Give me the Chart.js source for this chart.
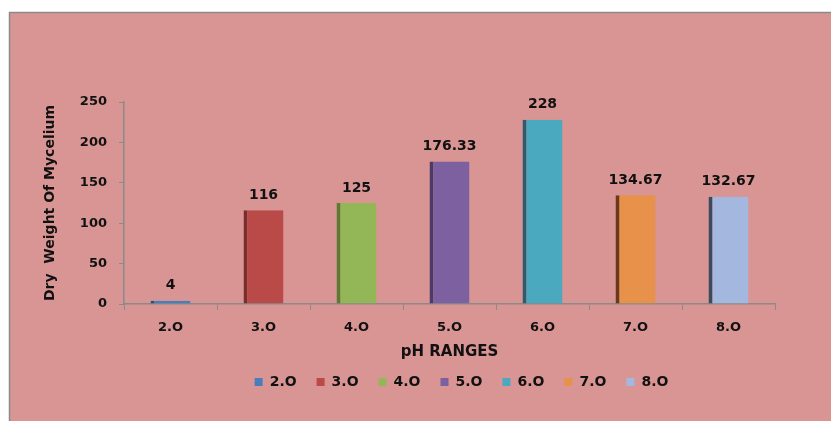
<!DOCTYPE html>
<html><head><meta charset="utf-8">
<script src="https://cdn.jsdelivr.net/npm/chart.js@4.4.0/dist/chart.umd.min.js"></script>
<style>html,body{margin:0;padding:0;background:#fff;}#wrap{position:absolute;left:0;top:0;width:831px;height:421px;}</style>
</head><body><div id="wrap"><canvas id="c" width="831" height="421"></canvas></div>
<script>
const categories = ["2.O","3.O","4.O","5.O","6.O","7.O","8.O"];
const dryWeight = [4, 116, 125, 176.33, 228, 134.67, 132.67];
const valueLabels = ["4","116","125","176.33","228","134.67","132.67"];
const yTicks = [0, 50, 100, 150, 200, 250];
const barColors = ["#4A7EBB","#BA4A48","#93B756","#7D60A0","#4AA8BF","#E8914A","#A4B7DF"];
const sideColors = ["#2C4F7C","#7A2D2B","#5E7934","#4E3A68","#2E5C6C","#6A3A18","#3D4A5E"];

const FONT = "'DejaVu Sans', sans-serif";

const bgPlugin = {
  id: 'bg',
  beforeDraw(chart) {
    const ctx = chart.ctx;
    ctx.save();
    ctx.fillStyle = '#D99594';
    ctx.fillRect(9, 12, 830, 420);
    ctx.strokeStyle = '#8a8a8a';
    ctx.lineWidth = 1.5;
    ctx.strokeRect(9.5, 12.5, 830, 420);
    ctx.restore();
  }
};
const legendShift = {
  id: 'legendShift',
  afterLayout(chart) {
    if (chart.legend) { chart.legend.left += 53; chart.legend.right += 53; }
  }
};
const labelPlugin = {
  id: 'vals',
  afterDatasetsDraw(chart) {
    const ctx = chart.ctx;
    const meta = chart.getDatasetMeta(0);
    ctx.save();
    ctx.font = "bold 14px " + FONT;
    ctx.fillStyle = '#111';
    ctx.textAlign = 'center';
    ctx.textBaseline = 'bottom';
    meta.data.forEach((el, i) => {
      ctx.fillText(valueLabels[i], el.x, el.y - 8);
    });
    ctx.restore();
  }
};

new Chart(document.getElementById('c'), {
  type: 'bar',
  data: {
    labels: categories,
    datasets: [{
      label: 'Dry Weight',
      data: dryWeight,
      backgroundColor: barColors,
      borderColor: sideColors,
      borderWidth: {left: 4, right: 0, top: 0, bottom: 0},
      borderSkipped: false,
      barPercentage: 0.43,
      categoryPercentage: 1.0
    }]
  },
  options: {
    responsive: false,
    animation: false,
    devicePixelRatio: 1,
    layout: { padding: {left: 42, right: 56, top: 102, bottom: 22} },
    plugins: {
      tooltip: {enabled: false},
      legend: {
        position: 'bottom',
        labels: {
          font: {family: FONT, size: 14, weight: 'bold'},
          color: '#111',
          boxWidth: 8, boxHeight: 8,
          padding: 20,
          generateLabels(chart) {
            return categories.map((c, i) => ({
              text: c, fillStyle: barColors[i], strokeStyle: barColors[i], lineWidth: 0, hidden: false, index: i, fontColor: '#111'
            }));
          }
        }
      }
    },
    scales: {
      x: {
        offset: true,
        grid: {display: true, offset: true, drawOnChartArea: false, drawTicks: true, tickLength: 6, color: '#8a8a8a'},
        border: {display: true, color: '#8a8a8a', width: 1.5},
        ticks: {font: {family: FONT, size: 13, weight: 'bold'}, color: '#111', padding: 10},
        title: {display: true, text: 'pH RANGES', font: {family: FONT, size: 15, weight: 'bold'}, color: '#111', padding: {top: 2, bottom: -6}},
        afterFit(s) { s.height = 51; }
      },
      y: {
        min: 0, max: 250,
        afterBuildTicks(s) { s.ticks = yTicks.map(v => ({value: v})); },
        grid: {display: true, drawOnChartArea: false, drawTicks: true, tickLength: 5, color: '#8a8a8a'},
        border: {display: true, color: '#8a8a8a', width: 1.5},
        ticks: {font: {family: FONT, size: 13, weight: 'bold'}, color: '#111', padding: 12},
        title: {display: true, text: 'Dry  Weight Of Mycelium', font: {family: FONT, size: 14, weight: 'bold'}, color: '#111', padding: {top: 0, bottom: 8}},
        afterFit(s) { s.width = 82; }
      }
    }
  },
  plugins: [bgPlugin, legendShift, labelPlugin]
});
</script></body></html>
